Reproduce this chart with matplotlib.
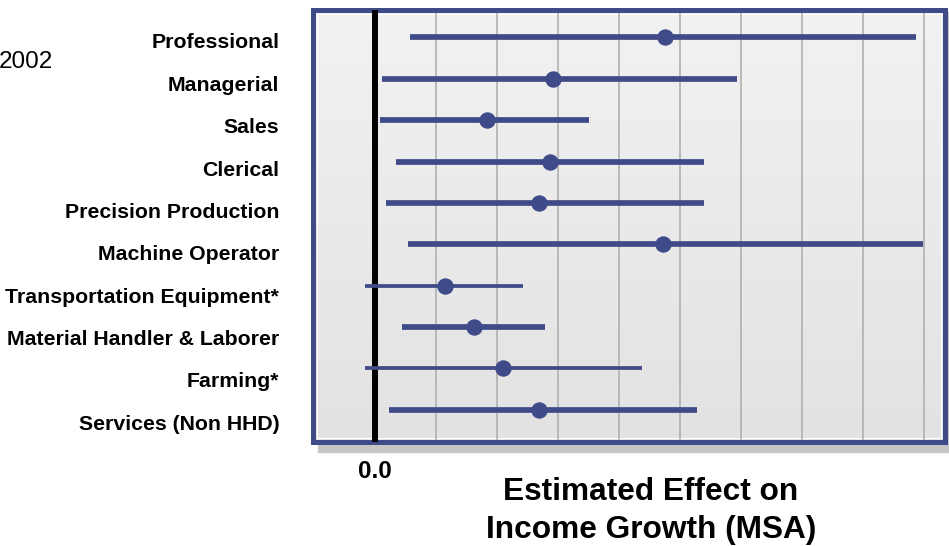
import matplotlib.pyplot as plt
import matplotlib.transforms as mtransforms
from matplotlib.patches import Rectangle
import numpy as np

plt.rcParams['font.family'] = ['Liberation Sans', 'DejaVu Sans']

occupations = ['Professional', 'Managerial', 'Sales', 'Clerical',
               'Precision Production', 'Machine Operator',
               'Transportation Equipment*', 'Material Handler & Laborer',
               'Farming*', 'Services (Non HHD)']
# point estimate and interval ends (one unit = one grid step)
estimate = [4.75, 2.91, 1.83, 2.86, 2.68, 4.71, 1.15, 1.61, 2.09, 2.68]
lower = [0.57, 0.11, 0.07, 0.34, 0.18, 0.53, -0.17, 0.44, -0.17, 0.23]
upper = [8.86, 5.93, 3.51, 5.39, 5.39, 8.98, 2.42, 2.78, 4.38, 5.27]
thin = [False, False, False, False, False, False, True, False, True, False]

navy = '#3F4A89'
W, H = 949, 546

fig = plt.figure(figsize=(W / 100, H / 100), dpi=100)
ax = fig.add_axes([312.5 / W, (H - 442) / H, 632 / W, 432.3 / H])

# drop shadow behind the frame
fig.patches.append(Rectangle((318 / W, (H - 452) / H), 1, 440 / H,
                             transform=fig.transFigure, color='#C6C6C6',
                             zorder=-5))

# gray gradient background
grad = np.linspace(0, 1, 256).reshape(-1, 1)
ax.imshow(grad, cmap=plt.matplotlib.colors.LinearSegmentedColormap.from_list(
    'bg', ['#F2F2F2', '#E2E2E2']), aspect='auto', extent=[0, 1, 0, 1],
    transform=ax.transAxes, zorder=0)
ax.add_patch(Rectangle((4 / 632, 4 / 432), 1 - 8 / 632, 1 - 8 / 432,
                       transform=ax.transAxes, fill=False, edgecolor='white',
                       lw=0.8, zorder=0.5))

rows = np.arange(len(occupations))
for i in rows:
    lw = 2.7 if thin[i] else 4.1
    ax.plot([lower[i], upper[i]], [i, i], color=navy, lw=lw,
            solid_capstyle='butt', zorder=3)
ax.plot(estimate, rows, 'o', color=navy, ms=10.8, zorder=4)

ax.axvline(0, color='black', lw=4.3, zorder=2.8)

ax.set_xlim(-1.0295, 9.331)
ax.set_ylim(9.78, -0.672)

ax.set_xticks(range(10))
ax.set_xticklabels(['0.0'] + [''] * 9, fontsize=17.5, fontweight='bold')
ax.grid(axis='x', color='#ABABAB', lw=1.1, zorder=1)
ax.tick_params(axis='x', length=0, pad=13)

ax.set_yticks(rows)
ax.set_yticklabels(occupations, fontsize=15.3, fontweight='bold', va='center')
ax.tick_params(axis='y', length=0, pad=24)
for i, lab in enumerate(ax.get_yticklabels()):
    off = mtransforms.ScaledTranslation(0, -(5.5 + i * 1.0) / 100,
                                        fig.dpi_scale_trans)
    lab.set_transform(lab.get_transform() + off)

for s in ax.spines.values():
    s.set_color(navy)
    s.set_linewidth(3.6)

fig.text(651 / W, (H - 511) / H, 'Estimated Effect on\nIncome Growth (MSA)',
         ha='center', va='center', fontsize=22.8, fontweight='bold',
         linespacing=1.32)
fig.text(53 / W, (H - 62) / H, '2002', ha='right', va='center', fontsize=17.5)

fig.savefig('out.png', dpi=100)
